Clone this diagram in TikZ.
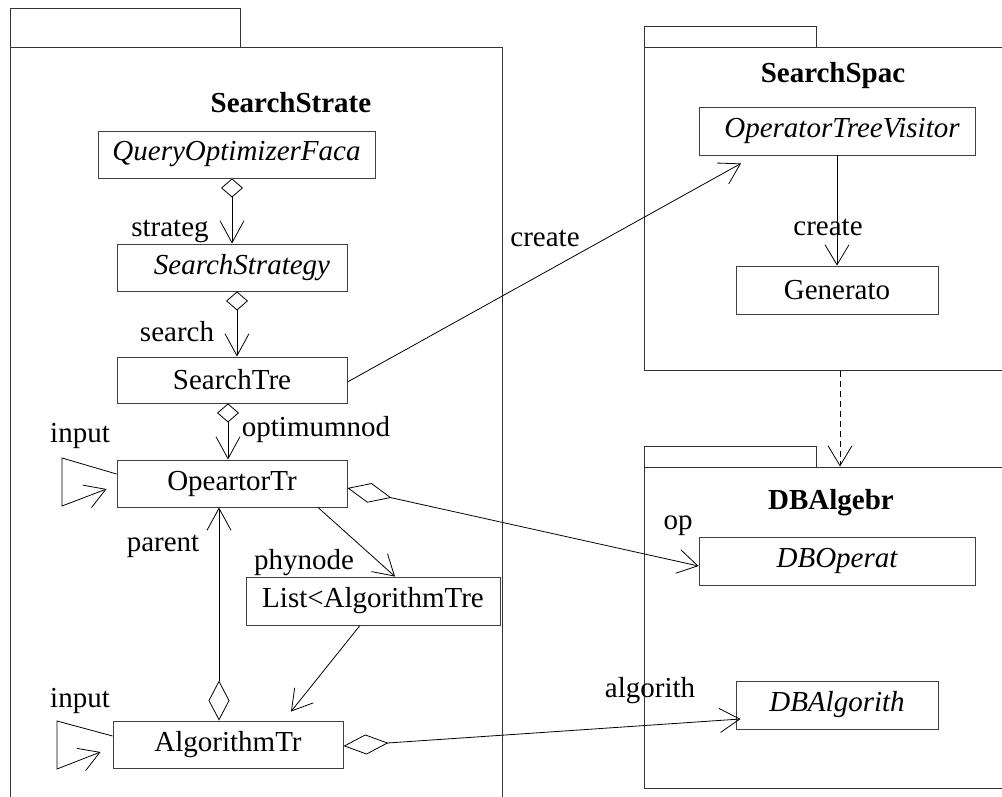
\documentclass[tikz,border=0pt]{standalone}
\usepackage{fontspec}
\setmainfont{Liberation Serif}
\usetikzlibrary{arrows.meta}
\begin{document}
\begin{tikzpicture}[x=1pt,y=-1pt,
  every node/.style={font=\fontsize{29}{34}\selectfont},
  pkg/.style={draw=black!80, line width=1pt, rectangle, inner sep=0pt},
  cls/.style={draw=black!75, line width=0.9pt, rectangle, inner sep=2pt, fill=white},
  lbl/.style={inner sep=0pt},
  conn/.style={draw=black, line width=0.8pt},
  arr/.style={conn, -{Straight Barb[length=20pt,width=24pt,line width=0.8pt]}},
  agg/.style={conn, {Diamond[open,length=19pt,width=22pt,line width=0.8pt]}-{Straight Barb[length=22pt,width=24pt,line width=0.8pt]}},
  aggtall/.style={conn, {Diamond[open,length=40pt,width=21pt,line width=0.8pt]}-{Straight Barb[length=22pt,width=24pt,line width=0.8pt]}},
  aggwide/.style={conn, {Diamond[open,length=45pt,width=20pt,line width=0.8pt]}-{Straight Barb[length=20pt,width=24pt,line width=0.8pt]}},
]
\useasboundingbox (0,0) rectangle (1002,797);
\clip (0,0) rectangle (1002,797);

% packages
\node[pkg, minimum width=230pt, minimum height=39pt] (tabS) at (125,28.5) {};
\node[pkg, minimum width=492pt, minimum height=802pt] (pkS) at (256,449) {};
\node[pkg, minimum width=172pt, minimum height=21pt] (tabSp) at (730,37.5) {};
\node[pkg, minimum width=406pt, minimum height=322pt] (pkSp) at (847,209) {};
\node[pkg, minimum width=172pt, minimum height=21pt] (tabDB) at (730,456.5) {};
\node[pkg, minimum width=406pt, minimum height=321pt] (pkDB) at (847,627.5) {};

% package titles
\node[lbl] (tS) at (291,103) {\textbf{SearchStrate}};
\node[lbl] (tSp) at (833,76) {\textbf{SearchSpac}};
\node[lbl] (tDB) at (831,503) {\textbf{DBAlgebr}};

% classes
\node[cls, minimum width=277pt, minimum height=47pt] (qof) at (236.5,154.5) {\itshape QueryOptimizerFaca};
\node[cls, minimum width=230pt, minimum height=47pt] (ss) at (232,267.5) {\hspace{20pt}\itshape SearchStrategy};
\node[cls, minimum width=230pt, minimum height=46pt] (st) at (232,380) {SearchTre};
\node[cls, minimum width=230pt, minimum height=47pt] (op) at (232,483.5) {OpeartorTr};
\node[cls, minimum width=254pt, minimum height=48pt] (lst) at (373,601) {List<AlgorithmTre\hspace{20pt}};
\node[cls, minimum width=230pt, minimum height=47pt] (alg) at (228,744.5) {AlgorithmTr};
\node[cls, minimum width=276pt, minimum height=48pt] (otv) at (837,131) {\hspace{10pt}\itshape OperatorTreeVisitor};
\node[cls, minimum width=202pt, minimum height=48pt] (gen) at (837,290) {Generato};
\node[cls, minimum width=276pt, minimum height=48pt] (dbo) at (837,561) {\itshape DBOperat};
\node[cls, minimum width=202pt, minimum height=48pt] (dba) at (837,705) {\itshape DBAlgorith};

% associations inside SearchStrate
\draw[agg] (qof.south -| ss.north) -- (ss.north);
\draw[agg] ([xshift=5pt]ss.south) -- ([xshift=5pt]st.north);
\draw[agg] ([xshift=-4pt]st.south) -- ([xshift=-4pt]op.north);
\draw[aggtall] ([xshift=-9pt]alg.north) -- ([xshift=-13pt]op.south);
\draw[arr] ([xshift=86pt]op.south) -- ([xshift=22pt]lst.north);
\draw[arr] ([xshift=-13pt]lst.south) -- ([xshift=63pt,yshift=9pt]alg.north);

% self associations
\coordinate (inA1) at (62,458);
\coordinate (inA2) at (62,506);
\draw[arr] ([yshift=9.5pt]op.west) -- (inA1) -- (inA2) -- ([xshift=-10pt,yshift=-5.5pt]op.west);
\coordinate (inB1) at (57,721);
\coordinate (inB2) at (57,769);
\draw[arr] ([yshift=8.5pt]alg.west) -- (inB1) -- (inB2) -- ([xshift=-12pt,yshift=-7.5pt]alg.west);

% associations across packages
\draw[aggwide] ([yshift=-4.5pt]op.east) -- ([yshift=-5pt]dbo.west);
\draw[aggwide] ([yshift=-1.5pt]alg.east) -- ([xshift=5pt,yshift=-14pt]dba.west);
\draw[arr] ([yshift=-2pt]st.east) -- ([xshift=-96pt,yshift=-8pt]otv.south);
\draw[arr] (otv.south) -- (gen.north);

% package dependency
\draw[conn, dash pattern=on 6pt off 4pt, -{Straight Barb[length=20pt,width=24pt,line width=0.8pt]}]
  ([xshift=-7pt]pkSp.south) -- ([xshift=-7pt]pkDB.north);

% role labels
\node[lbl] (lStrateg) at (170,231) {strateg};
\node[lbl] (lSearch) at (177,332) {search};
\node[lbl] (lOptimum) at (316,430) {optimumnod};
\node[lbl] (lInputA) at (80,436) {input};
\node[lbl] (lParent) at (163,546) {parent};
\node[lbl] (lPhynode) at (304,563) {phynode};
\node[lbl] (lInputB) at (80,701) {input};
\node[lbl] (lCreateA) at (545,238) {create};
\node[lbl] (lCreateB) at (828,227) {create};
\node[lbl] (lOp) at (678,526) {op};
\node[lbl] (lAlgorith) at (650,691) {algorith};
\end{tikzpicture}
\end{document}
